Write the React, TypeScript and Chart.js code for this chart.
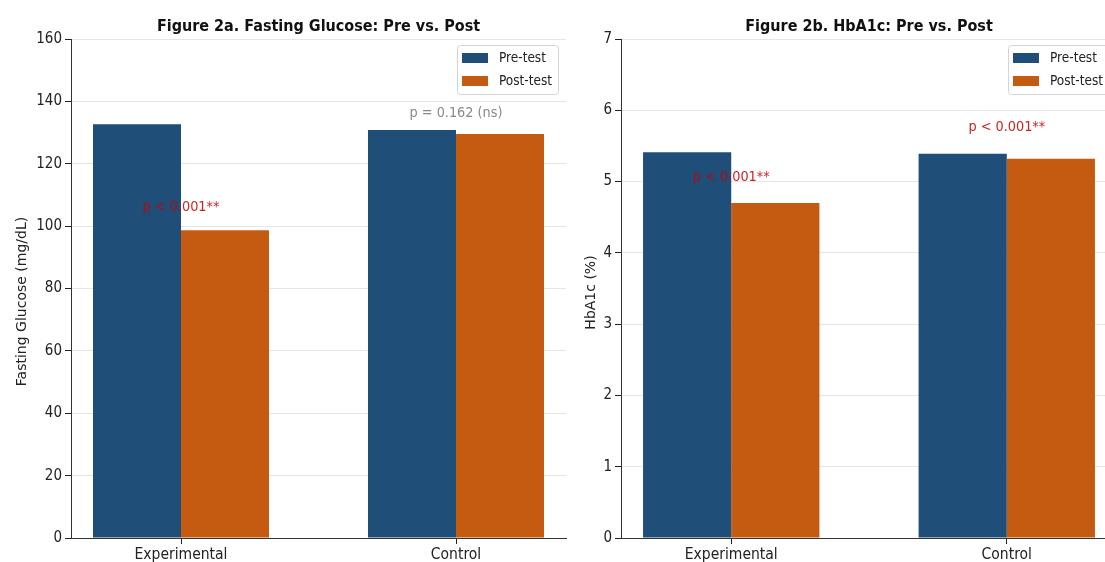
import React, { useEffect, useRef } from 'react';
import { Chart, registerables } from 'chart.js';

Chart.register(...registerables);

// ---------------- data ----------------
const groups = ['Experimental', 'Control'];
const seriesNames = ['Pre-test', 'Post-test'];

const glucoseTitle = 'Figure 2a. Fasting Glucose: Pre vs. Post';
const glucoseAxisTitle = 'Fasting Glucose (mg/dL)';
const glucosePre = [132.7, 130.8];
const glucosePost = [98.7, 129.5];
const glucoseTicks = [0, 20, 40, 60, 80, 100, 120, 140, 160];
const glucosePLabels = ['p < 0.001**', 'p = 0.162 (ns)'];
const glucosePLabelY = [104.9, 135.0];
const glucosePSignificant = [true, false];

const hba1cTitle = 'Figure 2b. HbA1c: Pre vs. Post';
const hba1cAxisTitle = 'HbA1c (%)';
const hba1cPre = [5.41, 5.39];
const hba1cPost = [4.7, 5.32];
const hba1cTicks = [0, 1, 2, 3, 4, 5, 6, 7];
const hba1cPLabels = ['p < 0.001**', 'p < 0.001**'];
const hba1cPLabelY = [5.01, 5.71];
const hba1cPSignificant = [true, true];

// ---------------- styles ----------------
const PRE_COLOR = '#1f4e79';
const POST_COLOR = '#c55a11';
const SIG_COLOR = 'rgba(204, 0, 0, 0.88)';
const NS_COLOR = '#888888';
const FONT = '"DejaVu Sans", sans-serif';
const COND = '"DejaVu Sans Condensed", "DejaVu Sans", sans-serif';
const H = 562;

type PanelProps = {
  title: string;
  axisTitle: string;
  pre: number[];
  post: number[];
  ticks: number[];
  pLabels: string[];
  pY: number[];
  pSig: boolean[];
  left: number;
  width: number;
  padding: { left: number; top: number; right: number; bottom: number };
  yAxisWidth: number;
  yTitleX: number;
  yTitleShift: number;
};

function Panel(props: PanelProps) {
  const ref = useRef<HTMLCanvasElement>(null);
  useEffect(() => {
    const { title, axisTitle, pre, post, ticks, pLabels, pY, pSig, padding, yAxisWidth, yTitleX, yTitleShift } = props;
    const canvas = ref.current!;

    const annotationPlugin = {
      id: 'pAnnotations',
      afterDatasetsDraw(chart: any) {
        const { ctx, scales } = chart;
        ctx.save();
        ctx.font = `14.3px ${COND}`;
        ctx.textAlign = 'center';
        ctx.textBaseline = 'alphabetic';
        pLabels.forEach((t, i) => {
          ctx.fillStyle = pSig[i] ? SIG_COLOR : NS_COLOR;
          ctx.fillText(t, scales.x.getPixelForValue(i), scales.y.getPixelForValue(pY[i]));
        });
        ctx.restore();
      },
    };

    const titlePlugin = {
      id: 'panelTitle',
      afterDraw(chart: any) {
        const { ctx, chartArea } = chart;
        ctx.save();
        ctx.font = `bold 16px ${COND}`;
        ctx.fillStyle = '#111';
        ctx.textAlign = 'center';
        ctx.textBaseline = 'alphabetic';
        ctx.fillText(title, (chartArea.left + chartArea.right) / 2, 30.5);
        // y axis title (rotated)
        ctx.font = `14px ${FONT}`;
        ctx.fillStyle = '#222';
        ctx.translate(yTitleX, (chartArea.top + chartArea.bottom) / 2 + yTitleShift);
        ctx.rotate(-Math.PI / 2);
        ctx.fillText(axisTitle, 0, 0);
        ctx.restore();
      },
    };

    const legendPlugin = {
      id: 'boxLegend',
      afterDraw(chart: any) {
        const { ctx, chartArea } = chart;
        const w = 101;
        const h = 49;
        const bx = chartArea.right - 8 - w;
        const by = chartArea.top + 6;
        ctx.save();
        ctx.beginPath();
        if (ctx.roundRect) ctx.roundRect(bx + 0.5, by + 0.5, w, h, 3);
        else ctx.rect(bx + 0.5, by + 0.5, w, h);
        ctx.fillStyle = 'rgba(255,255,255,0.8)';
        ctx.fill();
        ctx.strokeStyle = '#d4d4d4';
        ctx.lineWidth = 1;
        ctx.stroke();
        const rows = [13, 36];
        chart.data.datasets.forEach((ds: any, i: number) => {
          const cy = by + rows[i];
          ctx.fillStyle = ds.backgroundColor;
          ctx.fillRect(bx + 5, cy - 5, 26, 10);
          ctx.fillStyle = '#222';
          ctx.font = `13.5px ${COND}`;
          ctx.textAlign = 'left';
          ctx.textBaseline = 'middle';
          ctx.fillText(ds.label, bx + 42, cy);
        });
        ctx.restore();
      },
    };

    const chart = new Chart(canvas, {
      type: 'bar',
      data: {
        datasets: [
          {
            label: seriesNames[0],
            data: groups.map((_, i) => ({ x: i, y: pre[i] })),
            backgroundColor: PRE_COLOR,
            categoryPercentage: 0.64,
            barPercentage: 1,
          },
          {
            label: seriesNames[1],
            data: groups.map((_, i) => ({ x: i, y: post[i] })),
            backgroundColor: POST_COLOR,
            categoryPercentage: 0.64,
            barPercentage: 1,
          },
        ],
      } as any,
      options: {
        responsive: false,
        animation: false,
        devicePixelRatio: 1,
        layout: { padding },
        plugins: {
          legend: { display: false },
          title: { display: false },
          tooltip: { enabled: false },
        },
        scales: {
          x: {
            type: 'linear',
            min: -0.4,
            max: 1.4,
            offset: false,
            afterBuildTicks: (s: any) => {
              s.ticks = groups.map((_, i) => ({ value: i }));
            },
            ticks: {
              callback: (v: any) => groups[v] ?? '',
              font: { family: COND, size: 15.5 },
              color: '#222',
              padding: 2,
              autoSkip: false,
              maxRotation: 0,
            },
            grid: {
              offset: false,
              drawOnChartArea: false,
              drawTicks: true,
              tickLength: 6,
              tickColor: '#222',
              tickWidth: 1,
            },
            border: { color: '#333', width: 1 },
            afterFit: (s: any) => {
              s.height = 24;
            },
          },
          y: {
            type: 'linear',
            min: ticks[0],
            max: ticks[ticks.length - 1],
            afterBuildTicks: (s: any) => {
              s.ticks = ticks.map((v) => ({ value: v }));
            },
            ticks: {
              callback: (v: any) => String(v),
              font: { family: COND, size: 15 },
              color: '#222',
              padding: 3,
            },
            grid: {
              offset: false,
              color: (c: any) => (c.tick && c.tick.value === 0 ? 'rgba(0,0,0,0)' : '#e6e6e6'),
              lineWidth: 1,
              drawTicks: true,
              tickLength: 6,
              tickColor: '#222',
              tickWidth: 1,
            },
            border: { color: '#333', width: 1 },
            title: { display: false },
            afterFit: (s: any) => {
              s.width = yAxisWidth;
            },
          },
        },
      } as any,
      plugins: [annotationPlugin, titlePlugin, legendPlugin],
    });
    return () => chart.destroy();
  }, []);

  return (
    <canvas
      ref={ref}
      width={props.width}
      height={H}
      style={{ position: 'absolute', left: props.left, top: 0, width: props.width, height: H }}
    />
  );
}

export default function App() {
  return (
    <div
      style={{
        position: 'absolute',
        left: 0,
        top: 0,
        width: 1105,
        height: H,
        overflow: 'hidden',
        background: '#ffffff',
      }}
    >
      <Panel
        title={glucoseTitle}
        axisTitle={glucoseAxisTitle}
        pre={glucosePre}
        post={glucosePost}
        ticks={glucoseTicks}
        pLabels={glucosePLabels}
        pY={glucosePLabelY}
        pSig={glucosePSignificant}
        left={0}
        width={572}
        padding={{ left: 8, top: 39, right: 6, bottom: 0 }}
        yAxisWidth={63}
        yTitleX={25.6}
        yTitleShift={13}
      />
      <Panel
        title={hba1cTitle}
        axisTitle={hba1cAxisTitle}
        pre={hba1cPre}
        post={hba1cPost}
        ticks={hba1cTicks}
        pLabels={hba1cPLabels}
        pY={hba1cPLabelY}
        pSig={hba1cPSignificant}
        left={572}
        width={566}
        padding={{ left: 6, top: 39, right: 21, bottom: 0 }}
        yAxisWidth={43}
        yTitleX={22.6}
        yTitleShift={4}
      />
    </div>
  );
}
